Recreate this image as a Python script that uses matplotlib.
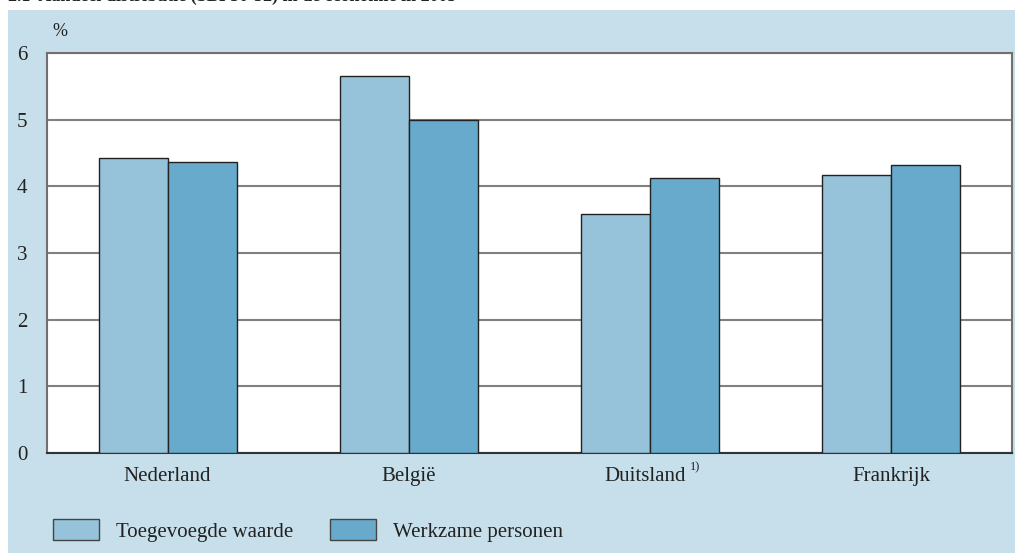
import matplotlib.pyplot as plt
import matplotlib.transforms as mtransforms
from matplotlib.patches import Rectangle
import numpy as np

# Share of value added and employment per country, in %
countries = ["Nederland", "België", "Duitsland", "Frankrijk"]
toegevoegde_waarde = [4.42, 5.65, 3.59, 4.17]
werkzame_personen = [4.36, 5.00, 4.12, 4.32]
series_labels = ["Toegevoegde waarde", "Werkzame personen"]
yticks = [0, 1, 2, 3, 4, 5, 6]

light = "#96c3da"
dark = "#67aacb"
panel = "#c6dfea"
ink = "#222222"

plt.rcParams["font.family"] = ["Liberation Serif", "DejaVu Serif"]

W, H = 1015, 553
fig = plt.figure(figsize=(W / 100, H / 100), dpi=100)
fig.patch.set_facecolor("white")

# light blue panel behind the chart
fig.patches.append(Rectangle((8 / W, 0), 1 - 8 / W, (H - 10) / H,
                             transform=fig.transFigure, facecolor=panel,
                             edgecolor="none", zorder=-5))

# title, mostly cut off by the top of the image
fig.text(8 / W, 1.0 + 4 / H, "2.1  Aandeel distributie (SBI 50-52) in de economie in 2005",
         ha="left", va="center", fontsize=13, fontweight="bold", color=ink)

ax = fig.add_axes([47 / W, 1 - 453 / H, (1012 - 47) / W, (453 - 53) / H])
ax.set_zorder(2)
ax.set_facecolor("white")

x = np.arange(len(countries))
w = 0.286
ax.bar(x - w / 2, toegevoegde_waarde, w, color=light, edgecolor=ink, linewidth=1, zorder=3)
ax.bar(x + w / 2, werkzame_personen, w, color=dark, edgecolor=ink, linewidth=1, zorder=3)

ax.set_xlim(-0.5, len(countries) - 0.5)
ax.set_ylim(0, 6)
ax.set_yticks(yticks)
ax.set_xticks(x)
ax.set_xticklabels(countries)
ax.tick_params(length=0, labelsize=15, colors=ink, pad=14)
ax.tick_params(axis="x", pad=10)
ax.yaxis.grid(True, color="#808080", linewidth=1.5, zorder=1)
for s in ax.spines.values():
    s.set_color("#707070")
    s.set_linewidth(1.5)
ax.spines["bottom"].set_color("#333333")

# nudge Duitsland left to leave room for its footnote marker
lab = ax.get_xticklabels()[2]
lab.set_transform(lab.get_transform() + mtransforms.ScaledTranslation(-5 / 100, 0, fig.dpi_scale_trans))
ax.annotate("1)", xy=(2, 0), xycoords="data", xytext=(29, -10),
            textcoords="offset points", fontsize=9, color=ink, va="center",
            annotation_clip=False)

fig.text(52 / W, 1 - 31 / H, "%", fontsize=13, color=ink, va="center")

# legend
lx = [(53, light, series_labels[0]), (330, dark, series_labels[1])]
for px, c, lab in lx:
    fig.patches.append(Rectangle((px / W, 1 - 540 / H), 46 / W, 21 / H,
                                 transform=fig.transFigure, facecolor=c,
                                 edgecolor="#444444", linewidth=1))
    fig.text((px + 63) / W, 1 - 533 / H, lab, fontsize=15, color=ink, va="center")

fig.savefig("out.png", dpi=100)
